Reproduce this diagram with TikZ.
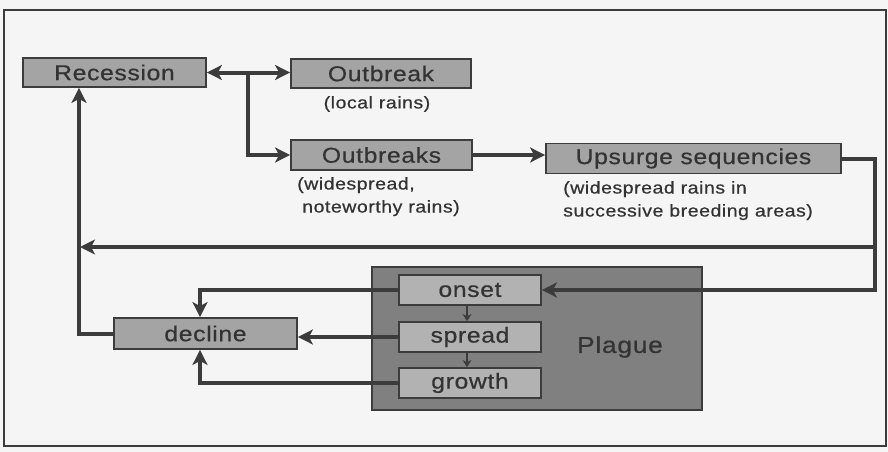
\documentclass[tikz,border=0pt]{standalone}
\usepackage{fontspec}
\setmainfont{Liberation Sans}[FakeStretch=1.15,LetterSpace=3,FakeBold=0.6]
\usetikzlibrary{arrows.meta,calc}
\definecolor{boxfill}{HTML}{A4A4A4}
\definecolor{innerfill}{HTML}{B2B2B2}
\definecolor{plaguefill}{HTML}{808080}
\definecolor{edge}{HTML}{3C3C3C}
\definecolor{ink}{HTML}{333333}
\definecolor{paper}{HTML}{F5F5F5}
\tikzset{
  x=1pt,y=-1pt,
  >={Stealth[length=15pt,width=15pt,inset=4pt]},
  stagebox/.style={draw=edge,line width=1.8pt,fill=boxfill,text=ink,inner sep=0pt,
    font=\fontsize{21.5}{24}\selectfont},
  innerbox/.style={stagebox,fill=innerfill},
  note/.style={text=ink,inner sep=0pt,font=\fontsize{17}{23}\selectfont},
  flow/.style={draw=edge,line width=4pt},
  smallflow/.style={draw=edge,line width=1.8pt,-{Stealth[length=7pt,width=9pt,inset=2pt]}},
}
\begin{document}
\begin{tikzpicture}
\fill[paper] (0,0) rectangle (888,452);
\useasboundingbox (0,0) rectangle (888,452);
\draw[edge,line width=1.5pt] (4,10) rectangle (886,446);

% plague box
\node[draw=edge,line width=1.8pt,fill=plaguefill,minimum width=330pt,minimum height=143pt,inner sep=0pt] (plague) at (537,338.5) {};
\node[text=ink,font=\fontsize{23}{26}\selectfont] (plaguetxt) at (620,347) {Plague};

% boxes
\node[stagebox,minimum width=183pt,minimum height=29pt] (rec) at (114.5,72.5) {Recession};
\node[stagebox,minimum width=180pt,minimum height=29pt] (out1) at (381,73.5) {Outbreak};
\node[stagebox,minimum width=181pt,minimum height=30pt] (out2) at (381.5,155) {Outbreaks};
\node[stagebox,minimum width=295pt,minimum height=30pt] (ups) at (693.5,158.5) {Upsurge sequencies};
\node[stagebox,minimum width=183pt,minimum height=31pt] (dec) at (205.5,333.5) {decline};
\node[innerbox,minimum width=142pt,minimum height=30pt] (onset) at (470,290) {onset};
\node[innerbox,minimum width=142pt,minimum height=30pt] (spread) at (470,337) {spread};
\node[innerbox,minimum width=142pt,minimum height=30pt] (growth) at (470,383) {growth};

% notes
\node[note] (n1) at (377,104) {(local rains)};
\node[note,anchor=north west,align=left] (n2) at (297,177) {(widespread,\\\hspace{5pt}noteworthy rains)};
\node[note,anchor=north west,align=left] (n3) at (563,181) {(widespread rains in\\successive breeding areas)};

% helper coordinates
\coordinate (br) at (248,72.5);
\coordinate (rx) at (875,0);
\coordinate (vl) at (79,0);
\coordinate (dx) at (200,0);
\coordinate (j) at (875,247);

% connectors
\draw[flow,<->] (rec.east) -- (rec.east -| out1.west);
\draw[flow,->] (br) |- (out2.west);
\draw[flow,->] (out2.east) -- (out2.east -| ups.west);
\draw[flow,->,line join=miter] (ups.east) -| (rx |- onset.east) -- (onset.east);
\draw[flow,->,shorten >=1pt] (j) -- (vl |- j);
\draw[flow,->,line join=miter] (dec.west) -| (vl |- rec.south);
\draw[flow,->,line join=miter] (onset.west) -| (dx |- dec.north);
\draw[flow,->] (spread.west) -- (spread.west -| dec.east);
\draw[flow,->,line join=miter] (growth.west) -| (dx |- dec.south);
\draw[smallflow] (onset.south -| 467,0) -- (spread.north -| 467,0);
\draw[smallflow] (spread.south -| 467,0) -- (growth.north -| 467,0);
\end{tikzpicture}
\end{document}
